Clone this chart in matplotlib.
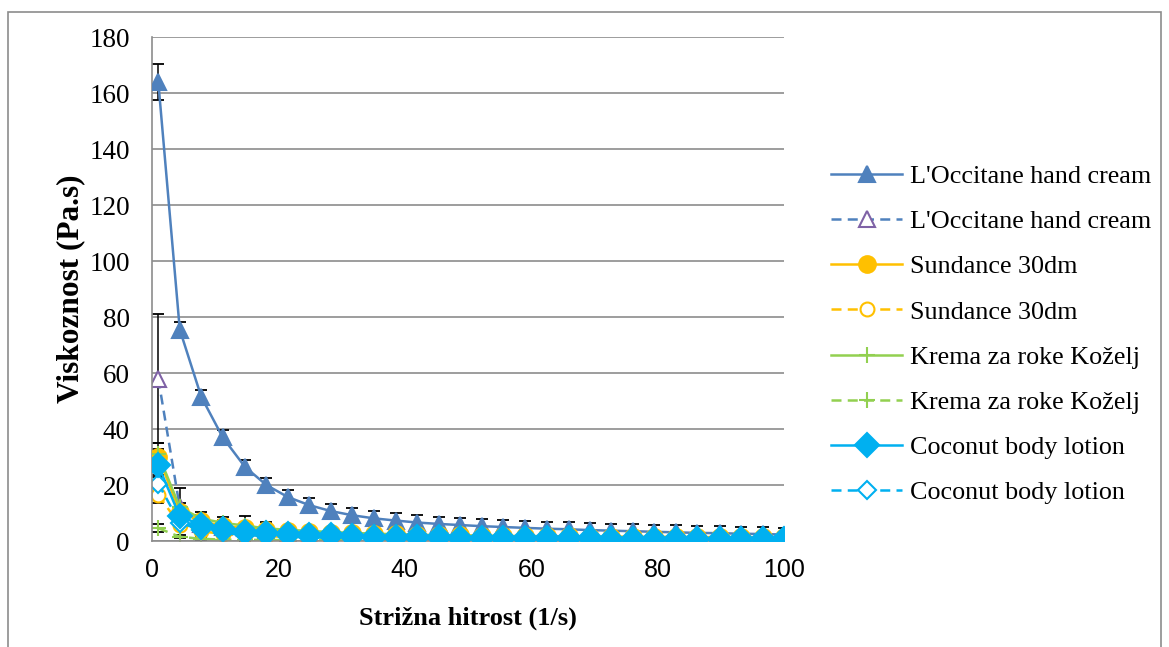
import matplotlib
matplotlib.use("Agg")
import matplotlib.pyplot as plt
from matplotlib.patches import Rectangle

# strižna hitrost (1/s)
shear_rate = [1.0, 4.4, 7.8, 11.2, 14.7, 18.1, 21.5, 24.9, 28.3, 31.7,
              35.1, 38.6, 42.0, 45.4, 48.8, 52.2, 55.6, 59.0, 62.5, 65.9,
              69.3, 72.7, 76.1, 79.5, 82.9, 86.3, 89.8, 93.2, 96.6, 100.0]

# viskoznost (Pa.s)
loccitane_1 = [164, 75.5, 51.5, 37, 26.5, 20, 15.7, 12.8, 10.7, 9.2,
               8.1, 7.3, 6.6, 6.1, 5.7, 5.3, 5.0, 4.7, 4.4, 4.2,
               3.9, 3.7, 3.5, 3.3, 3.1, 2.9, 2.8, 2.6, 2.5, 2.3]
loccitane_1_err = [6.5, 2.8, 2.6, 2.6, 2.6, 2.6, 2.6, 2.6, 2.6, 2.6,
                   2.6, 2.6, 2.6, 2.6, 2.5, 2.5, 2.5, 2.5, 2.5, 2.5,
                   2.5, 2.5, 2.5, 2.5, 2.5, 2.5, 2.5, 2.5, 2.5, 2.5]
loccitane_2 = [58, 12, 6, 5, 4.5, 3.5, 2.5, 2.0, 1.8, 1.6,
               1.5, 1.4, 1.3, 1.2, 1.1, 1.1, 1.0, 1.0, 0.9, 0.9,
               0.9, 0.8, 0.8, 0.8, 0.8, 0.7, 0.7, 0.7, 0.7, 0.7]
loccitane_2_err = [23, 7, 4.5, 3.5, 4.5, 3.2, 1.5, 1.0, 0.8, 0.7,
                   0.6, 0.5, 0.5, 0.4, 0.4, 0.4, 0.3, 0.3, 0.3, 0.3,
                   0.3, 0.3, 0.3, 0.3, 0.3, 0.3, 0.3, 0.3, 0.3, 0.3]
sundance_1 = [30, 10.5, 7, 5.5, 4.5, 4.0, 3.5, 3.2, 3.0, 2.7,
              2.5, 2.4, 2.2, 2.1, 2.0, 1.9, 1.8, 1.8, 1.7, 1.7,
              1.6, 1.6, 1.5, 1.5, 1.5, 1.4, 1.4, 1.4, 1.3, 1.3]
sundance_1_err = [5, 2, 1.5, 1.2, 1.0, 0.8, 0.6, 0.5, 0.5, 0.4,
                  0.4, 0.3, 0.3, 0.3, 0.3, 0.3, 0.3, 0.3, 0.3, 0.3,
                  0.3, 0.3, 0.3, 0.3, 0.3, 0.3, 0.3, 0.3, 0.3, 0.3]
sundance_2 = [16.5, 5.7, 3.5, 2.5, 2.0, 1.7, 1.5, 1.3, 1.2, 1.1,
              1.0, 1.0, 0.9, 0.9, 0.9, 0.8, 0.8, 0.8, 0.8, 0.7,
              0.7, 0.7, 0.7, 0.7, 0.7, 0.6, 0.6, 0.6, 0.6, 0.6]
sundance_2_err = [3, 1.5, 1.0, 0.6, 0.5, 0.4, 0.3, 0.3, 0.3, 0.2,
                  0.2, 0.2, 0.2, 0.2, 0.2, 0.2, 0.2, 0.2, 0.2, 0.2,
                  0.2, 0.2, 0.2, 0.2, 0.2, 0.2, 0.2, 0.2, 0.2, 0.2]
kozelj_1 = [31, 12, 8, 6.5, 5.5, 4.5, 4.0, 3.6, 3.2, 2.9,
            2.6, 2.4, 2.2, 2.0, 1.9, 1.8, 1.7, 1.6, 1.5, 1.4,
            1.3, 1.3, 1.2, 1.2, 1.1, 1.1, 1.0, 1.0, 1.0, 0.9]
kozelj_1_err = [2, 1.5, 1.2, 1.0, 0.8, 0.6, 0.5, 0.4, 0.4, 0.3,
                0.3, 0.3, 0.3, 0.2, 0.2, 0.2, 0.2, 0.2, 0.2, 0.2,
                0.2, 0.2, 0.2, 0.2, 0.2, 0.2, 0.2, 0.2, 0.2, 0.2]
kozelj_2 = [4.6, 1.5, 0.8, 0.5, 0.4, 0.4, 0.3, 0.3, 0.3, 0.3,
            0.3, 0.3, 0.3, 0.3, 0.3, 0.3, 0.3, 0.3, 0.3, 0.3,
            0.3, 0.3, 0.3, 0.3, 0.3, 0.3, 0.3, 0.3, 0.3, 0.3]
kozelj_2_err = [1.5, 0.5, 0.3, 0.2, 0.2, 0.2, 0.1, 0.1, 0.1, 0.1,
                0.1, 0.1, 0.1, 0.1, 0.1, 0.1, 0.1, 0.1, 0.1, 0.1,
                0.1, 0.1, 0.1, 0.1, 0.1, 0.1, 0.1, 0.1, 0.1, 0.1]
coconut_1 = [27, 8.8, 5.8, 4.2, 3.4, 2.9, 2.5, 2.2, 2.0, 1.8,
             1.6, 1.5, 1.4, 1.3, 1.2, 1.15, 1.1, 1.05, 1.0, 1.0,
             0.95, 0.9, 0.9, 0.85, 0.85, 0.8, 0.8, 0.75, 0.75, 0.7]
coconut_1_err = [4, 1.5, 1.0, 0.6, 0.5, 0.4, 0.3, 0.3, 0.3, 0.2,
                 0.2, 0.2, 0.2, 0.2, 0.2, 0.2, 0.2, 0.2, 0.2, 0.2,
                 0.2, 0.2, 0.2, 0.2, 0.2, 0.2, 0.2, 0.2, 0.2, 0.2]
coconut_2 = [20.5, 6.5, 4.0, 2.8, 2.2, 1.8, 1.5, 1.3, 1.2, 1.1,
             1.0, 0.9, 0.9, 0.8, 0.8, 0.8, 0.7, 0.7, 0.7, 0.7,
             0.6, 0.6, 0.6, 0.6, 0.6, 0.6, 0.6, 0.5, 0.5, 0.5]
coconut_2_err = [3, 1.2, 0.8, 0.5, 0.4, 0.3, 0.3, 0.2, 0.2, 0.2,
                 0.2, 0.2, 0.2, 0.2, 0.2, 0.2, 0.2, 0.2, 0.2, 0.2,
                 0.2, 0.2, 0.2, 0.2, 0.2, 0.2, 0.2, 0.2, 0.2, 0.2]

serif = ["Liberation Serif", "DejaVu Serif"]
plt.rcParams["font.family"] = serif

fig = plt.figure(figsize=(11.69, 6.47), dpi=100)
ax = fig.add_axes([0.130, 0.1638, 0.5407, 0.779])

# okvir grafa
fig.patches.append(Rectangle((8 / 1169, -0.1), 1153 / 1169, 1.1 - 12 / 647,
                             transform=fig.transFigure, fill=False,
                             edgecolor="#8c8c8c", linewidth=1.2))

dash = (4, 2.5)
series = [
    (loccitane_1, loccitane_1_err, "L'Occitane hand cream", "#4F81BD", "-", "^", "#4F81BD", "#4F81BD", 12, 3),
    (loccitane_2, loccitane_2_err, "L'Occitane hand cream", "#4F81BD", "--", "^", "white", "#7F62A6", 11, 2),
    (sundance_1, sundance_1_err, "Sundance 30dm", "#FFC000", "-", "o", "#FFC000", "#FFC000", 12, 3),
    (sundance_2, sundance_2_err, "Sundance 30dm", "#FFC000", "--", "o", "white", "#FFC000", 10, 2),
    (kozelj_1, kozelj_1_err, "Krema za roke Koželj", "#92D050", "-", "+", "#92D050", "#92D050", 12, 3),
    (kozelj_2, kozelj_2_err, "Krema za roke Koželj", "#92D050", "--", "+", "#92D050", "#92D050", 12, 2),
    (coconut_1, coconut_1_err, "Coconut body lotion", "#00B0F0", "-", "D", "#00B0F0", "#00B0F0", 12.5, 3),
    (coconut_2, coconut_2_err, "Coconut body lotion", "#00B0F0", "--", "D", "white", "#00B0F0", 9, 2),
]

handles = []
for vals, err, label, color, ls, mk, mfc, mec, ms, z in series:
    ax.errorbar(shear_rate, vals, yerr=err, fmt="none", ecolor="black",
                elinewidth=1.1, capsize=4, capthick=1.3, zorder=1.5)
    line, = ax.plot(shear_rate, vals, color=color, linestyle=ls, linewidth=1.8,
                    marker=mk, markersize=ms, markerfacecolor=mfc,
                    markeredgecolor=mec, markeredgewidth=1.5, label=label,
                    zorder=z)
    if ls == "--":
        line.set_dashes(dash)
    handles.append(line)

ax.set_xlim(0, 100)
ax.set_ylim(0, 180)
ax.set_xticks(range(0, 101, 20))
ax.set_yticks(range(0, 181, 20))
ax.yaxis.grid(True, color="#8c8c8c", linewidth=1.2)
ax.set_axisbelow(True)
for s in ["top", "right"]:
    ax.spines[s].set_visible(False)
for s in ["left", "bottom"]:
    ax.spines[s].set_color("#8c8c8c")
    ax.spines[s].set_linewidth(1.2)
ax.tick_params(axis="y", length=0, pad=16, labelsize=19.5)
ax.tick_params(axis="x", length=0, pad=12, labelsize=18)
for t in ax.get_xticklabels():
    t.set_family(["Liberation Sans", "DejaVu Sans"])

ax.set_xlabel("Strižna hitrost (1/s)", fontsize=19, fontweight="bold", labelpad=18)
ax.set_ylabel("Viskoznost (Pa.s)", fontsize=22.5, fontweight="bold", labelpad=3)

fig.legend(handles=handles, loc="center left", bbox_to_anchor=(0.691, 0.483),
           frameon=False, fontsize=18.8, handlelength=2.7, handletextpad=0.3,
           labelspacing=0.84)

fig.savefig("out.png", dpi=100)
plt.close(fig)
